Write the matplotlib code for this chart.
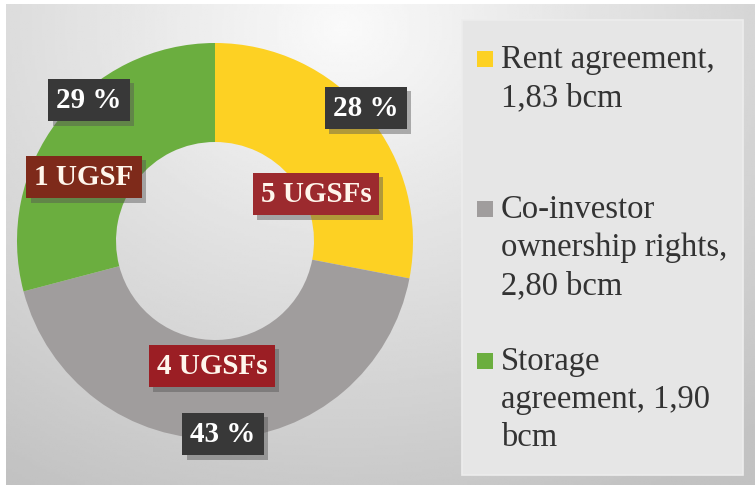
import numpy as np
import matplotlib
matplotlib.use('Agg')
import matplotlib.pyplot as plt
import matplotlib.patheffects as pe
from matplotlib.patches import Rectangle

# data
categories = ['Rent agreement', 'Co-investor ownership rights', 'Storage agreement']
values = [1.83, 2.80, 1.90]
legend_labels = [['Rent agreement,', '1,83 bcm'],
                 ['Co-investor', 'ownership rights,', '2,80 bcm'],
                 ['Storage', 'agreement, 1,90', 'bcm']]
pct_labels = ['28 %', '43 %', '29 %']
ugsf_labels = ['5 UGSFs', '4 UGSFs', '1 UGSF']
colors = ['#FDD123', '#A09D9D', '#6BAE3F']

W, H = 755, 486
fig = plt.figure(figsize=(W / 100, H / 100), dpi=100)
fig.patch.set_facecolor('white')

# background gradient
bg = fig.add_axes([6 / W, 1 / H, (W - 6) / W, (H - 5) / H])
yy, xx = np.mgrid[0:1:200j, 0:1:300j]
d = np.sqrt(((xx - 0.45) * 1.3) ** 2 + ((yy - 0.05) * 1.0) ** 2)
shade = 0.98 - 0.22 * np.clip(d / 1.1, 0, 1)
bg.imshow(shade, cmap='gray', vmin=0, vmax=1, aspect='auto', extent=[0, 1, 1, 0])
bg.set_axis_off()

# legend box
lg = fig.add_axes([0, 0, 1, 1])
lg.set_xlim(0, W)
lg.set_ylim(H, 0)
lg.set_axis_off()
lg.add_patch(Rectangle((462, 20), 281, 455, facecolor='#E6E6E6', edgecolor='#EDEDED', lw=1.2))
baselines = [68, 218, 370]
for lines, col, yb in zip(legend_labels, colors, baselines):
    lg.add_patch(Rectangle((477, yb - 17), 16, 16, facecolor=col, edgecolor='none'))
    for i, line in enumerate(lines):
        lg.text(501, yb + i * 38, line, fontsize=23.5, family='Liberation Serif', color='#333333',
                va='baseline', ha='left')

# donut
R = 198.0
cx, cy = 215, 241
lim = 1.08
ax = fig.add_axes([(cx - lim * R) / W, (H - cy - lim * R) / H, 2 * lim * R / W, 2 * lim * R / H])
wedges, _ = ax.pie(values, colors=colors, startangle=90, counterclock=False,
                   radius=1.0, wedgeprops=dict(width=0.5, edgecolor='none'))
ax.set_xlim(-lim, lim)
ax.set_ylim(-lim, lim)
ax.set_aspect('equal')
ax.set_axis_off()

shadow = [pe.withSimplePatchShadow(offset=(3, -3), shadow_rgbFace='#555555', alpha=0.45)]

# label placement (pixel offsets from centre, converted to data units)
pct_pos = [(151, 133), (8, -193), (-126, 141)]
ugsf_pos = [(101, 47), (-3, -125), (-131, 64)]
ugsf_colors = ['#9C2A2E', '#9B1E24', '#7E2A1A']

for lab, (dx, dy) in zip(pct_labels, pct_pos):
    t = ax.text(dx / R, dy / R, lab, ha='center', va='center', fontsize=21,
                family='Liberation Serif', fontweight='bold', color='white', clip_on=False,
                bbox=dict(boxstyle='square,pad=0.27', facecolor='#383838', edgecolor='none'))
    t.get_bbox_patch().set_path_effects(shadow)

for lab, (dx, dy), bc in zip(ugsf_labels, ugsf_pos, ugsf_colors):
    t = ax.text(dx / R, dy / R, lab, ha='center', va='center', fontsize=21,
                family='Liberation Serif', fontweight='bold', color='#FFF6EC', clip_on=False,
                bbox=dict(boxstyle='square,pad=0.27', facecolor=bc, edgecolor='none'))
    t.get_bbox_patch().set_path_effects(shadow)

fig.savefig('out.png', dpi=100)
